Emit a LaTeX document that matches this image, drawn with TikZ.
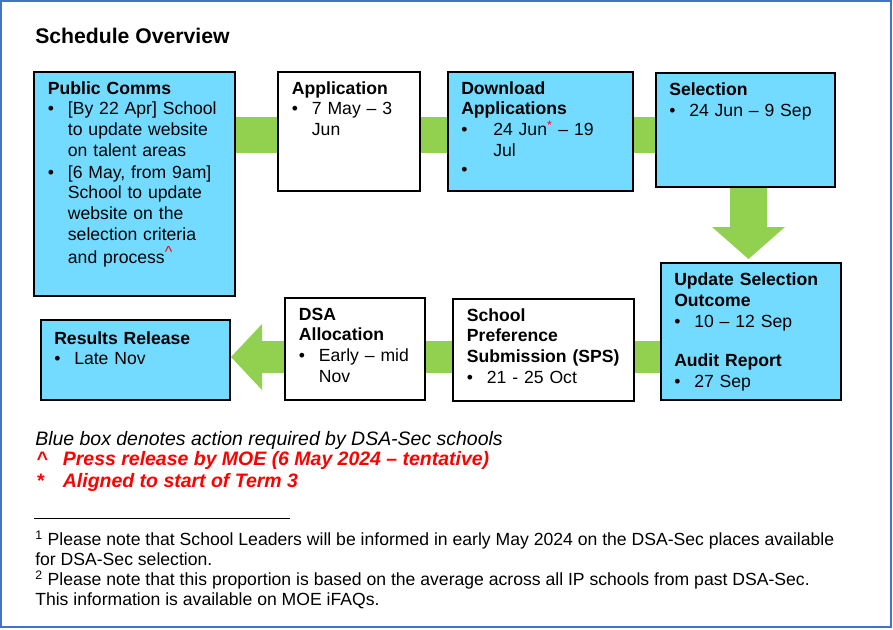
\documentclass[tikz,border=0pt]{standalone}
\usepackage{fontspec}
\setmainfont{Liberation Sans}
\usepackage{xcolor}
\usepackage{tikz}
\usetikzlibrary{positioning,calc,backgrounds}

\definecolor{actblue}{RGB}{115,219,255}
\definecolor{flowgreen}{RGB}{146,208,80}
\definecolor{frameblue}{RGB}{68,114,196}

\newcommand{\boxfont}{\fontsize{13.2}{15.5}\selectfont}
\newcommand{\bitem}[2][15pt]{\par\noindent\makebox[#1][l]{\textbullet}\begin{tabular}[t]{@{}l@{}}#2\end{tabular}}
\newcommand{\redsup}[1]{\textsuperscript{\textcolor{red}{#1}}}

\begin{document}
\begin{tikzpicture}[x=0.75pt, y=-0.75pt,
  box/.style={draw, line width=1.5pt, inner sep=0pt, anchor=north west},
  action/.style={box, fill=actblue},
  plain/.style={box, fill=white},
  lbl/.style={inner sep=0pt, text width=190pt, align=left, font=\boxfont},
  note/.style={inner sep=0pt, anchor=base west, font=\fontsize{14.6}{17}\selectfont\itshape},
  redmark/.style={note, text=red, font=\fontsize{14.6}{17}\selectfont\bfseries\itshape},
  foot/.style={inner sep=0pt, anchor=base west, font=\boxfont},
  flow/.style={fill=flowgreen}
]
\useasboundingbox (0,0) rectangle (893,629);
\draw[frameblue, line width=1.9pt] (1,1) rectangle (891,627);

\node[anchor=base west, inner sep=0pt, font=\fontsize{15.9}{19}\selectfont\bfseries] (title) at (35,43) {Schedule Overview};

% boxes, top row
\node[action, minimum width=150.75pt, minimum height=168pt] (pc) at (33,71) {};
\node[plain, minimum width=106.5pt, minimum height=89.25pt] (app) at (277,71) {};
\node[action, minimum width=138.75pt, minimum height=89.25pt] (dl) at (447,71) {};
\node[action, minimum width=134.25pt, minimum height=85.5pt] (sel) at (655,72) {};
% boxes, bottom row
\node[action, minimum width=135pt, minimum height=102.75pt] (upd) at (660,262) {};
\node[plain, minimum width=135.75pt, minimum height=76.5pt] (sps) at (452,298) {};
\node[plain, minimum width=105pt, minimum height=76.5pt] (dsa) at (284,297) {};
\node[action, minimum width=141.75pt, minimum height=60pt] (res) at (40,319) {};

% box texts
\node[lbl, below right=7.5pt and 11pt of pc.north west] (pctxt) {\noindent\textbf{Public Comms}
  \bitem{[By 22 Apr] School\\ to update website\\ on talent areas}
  \bitem{[6 May, from 9am]\\ School to update\\ website on the\\ selection criteria\\ and process\redsup{\large\textasciicircum}}};
\node[lbl, below right=7.5pt and 11pt of app.north west] (apptxt) {\noindent\textbf{Application}
  \bitem{7 May – 3\\ Jun}};
\node[lbl, below right=7.5pt and 10.5pt of dl.north west] (dltxt) {\noindent\textbf{Download}\\\textbf{Applications}
  \bitem[24pt]{24 Jun\redsup{*} – 19\\ Jul}\par\vspace{3pt}
  \bitem[24pt]{}};
\node[lbl, below right=8pt and 10.5pt of sel.north west] (seltxt) {\noindent\textbf{Selection}
  \bitem{24 Jun – 9 Sep}};
\node[lbl, below right=8pt and 10.5pt of upd.north west] (updtxt) {\noindent\textbf{Update Selection}\\\textbf{Outcome}
  \bitem{10 – 12 Sep}\par\vspace{14pt}
  \noindent\textbf{Audit Report}
  \bitem{27 Sep}};
\node[lbl, below right=7.5pt and 11pt of sps.north west] (spstxt) {\noindent\textbf{School}\\\textbf{Preference}\\\textbf{Submission (SPS)}
  \bitem{21 - 25 Oct}};
\node[lbl, below right=8pt and 11pt of dsa.north west] (dsatxt) {\noindent\textbf{DSA}\\\textbf{Allocation}
  \bitem{Early – mid\\ Nov}};
\node[lbl, below right=9pt and 10.5pt of res.north west] (restxt) {\noindent\textbf{Results Release}
  \bitem{Late Nov}};

% green flow behind the boxes
\begin{scope}[on background layer]
\coordinate (upband) at ($(app.west)+(0,3.5)$);
\coordinate (lowband) at ($(sps.west)+(0,7)$);
\fill[flow] ($(pc.east |- upband)+(0,-18)$) rectangle ($(app.west |- upband)+(0,18)$);
\fill[flow] ($(app.east |- upband)+(0,-18)$) rectangle ($(dl.west |- upband)+(0,18)$);
\fill[flow] ($(dl.east |- upband)+(0,-18)$) rectangle ($(sel.west |- upband)+(0,18)$);
% down to the outcome box
\coordinate (dtop) at ($(sel.south)+(3,0)$);
\coordinate (dtip) at (dtop |- upd.north);
\fill[flow] ($(dtop)+(-18.5,0)$) -- ($(dtip)+(-18.5,-35)$) -- ($(dtip)+(-36.5,-35)$)
  -- ($(dtip)+(0,-3)$) -- ($(dtip)+(36.5,-35)$) -- ($(dtip)+(18.5,-35)$)
  -- ($(dtop)+(18.5,0)$) -- cycle;
\fill[flow] ($(sps.east |- lowband)+(0,-16)$) rectangle ($(upd.west |- lowband)+(0,16)$);
\fill[flow] ($(dsa.east |- lowband)+(0,-16)$) rectangle ($(sps.west |- lowband)+(0,16)$);
% back to the results box
\coordinate (ltip) at (res.east |- lowband);
\fill[flow] (ltip) -- ($(ltip)+(31,-33)$) -- ($(ltip)+(31,-16)$)
  -- ($(dsa.west |- lowband)+(0,-16)$) -- ($(dsa.west |- lowband)+(0,16)$)
  -- ($(ltip)+(31,16)$) -- ($(ltip)+(31,33)$) -- cycle;
\end{scope}

% legend
\node[note] (legend) at (35,445) {Blue box denotes action required by DSA-Sec schools};
\node[redmark] (press) at (36,465) {\makebox[20pt][l]{\textasciicircum}Press release by MOE (6 May 2024 – tentative)};
\node[redmark] (term) at (36,487) {\makebox[20pt][l]{*}Aligned to start of Term 3};

% footnotes
\draw[line width=0.75pt] (34,518) -- (290,518);
\node[foot] (fn1a) at (35,545) {\textsuperscript{1} Please note that School Leaders will be informed in early May 2024 on the DSA-Sec places available};
\node[foot] (fn1b) at (35,565.5) {for DSA-Sec selection.};
\node[foot] (fn2a) at (35,585) {\textsuperscript{2} Please note that this proportion is based on the average across all IP schools from past DSA-Sec.};
\node[foot] (fn2b) at (35,605) {This information is available on MOE iFAQs.};
\end{tikzpicture}
\end{document}
